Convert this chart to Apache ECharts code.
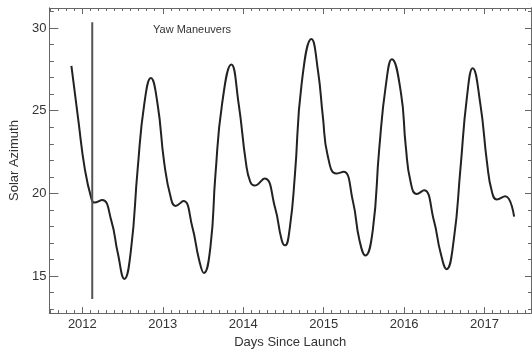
<!DOCTYPE html>
<html>
<head>
<meta charset="utf-8">
<script src="https://cdn.jsdelivr.net/npm/echarts@6/dist/echarts.min.js"></script>
<style>html,body{margin:0;padding:0;background:#fff;}#c{width:532px;height:354px;}</style>
</head>
<body>
<div id="c"></div>
<script>
// Solar azimuth curve: [year, degrees]
const azimuth = [
  [2011.864, 27.71], [2011.95, 24.43], [2012.03, 21.5], [2012.11, 19.73], [2012.15, 19.44],
  [2012.247, 19.6], [2012.36, 18.35], [2012.44, 16.4], [2012.523, 14.82], [2012.605, 16.59],
  [2012.688, 21.5], [2012.77, 25.41], [2012.852, 26.98], [2012.935, 25.41], [2013.017, 21.88],
  [2013.10, 19.73], [2013.16, 19.24], [2013.256, 19.53], [2013.367, 17.96], [2013.45, 16.0],
  [2013.511, 15.18], [2013.593, 16.79], [2013.654, 21.1], [2013.737, 25.41], [2013.852, 27.8],
  [2013.943, 25.41], [2014.033, 21.88], [2014.087, 20.7], [2014.14, 20.47], [2014.264, 20.9],
  [2014.395, 19.14], [2014.478, 17.18], [2014.52, 16.85], [2014.58, 17.96], [2014.642, 21.1],
  [2014.725, 26.59], [2014.848, 29.34], [2014.93, 27.38], [2014.99, 24.63], [2015.05, 22.28],
  [2015.157, 21.2], [2015.247, 21.3], [2015.363, 19.53], [2015.444, 17.18], [2015.519, 16.24],
  [2015.61, 17.76], [2015.69, 22.67], [2015.774, 26.59], [2015.848, 28.12], [2015.96, 26.1],
  [2016.02, 22.86], [2016.08, 20.7], [2016.157, 19.96], [2016.247, 20.18], [2016.37, 18.35],
  [2016.453, 16.4], [2016.527, 15.41], [2016.617, 17.18], [2016.70, 21.5], [2016.78, 25.8],
  [2016.852, 27.57], [2016.947, 25.41], [2017.03, 21.88], [2017.09, 20.12], [2017.153, 19.63],
  [2017.256, 19.82], [2017.367, 18.59]
];
// Yaw maneuver marker line
const yawLine = [[2012.123, 30.35], [2012.123, 13.6]];
const yawLabel = 'Yaw Maneuvers';

// Ticks
const xMajor = [2012, 2013, 2014, 2015, 2016, 2017];
const xMinor = [2011.6, 2011.7, 2011.8, 2011.9,
  2012.1, 2012.2, 2012.3, 2012.4, 2012.5, 2012.6, 2012.7, 2012.8, 2012.9,
  2013.1, 2013.2, 2013.3, 2013.4, 2013.5, 2013.6, 2013.7, 2013.8, 2013.9,
  2014.1, 2014.2, 2014.3, 2014.4, 2014.5, 2014.6, 2014.7, 2014.8, 2014.9,
  2015.1, 2015.2, 2015.3, 2015.4, 2015.5, 2015.6, 2015.7, 2015.8, 2015.9,
  2016.1, 2016.2, 2016.3, 2016.4, 2016.5, 2016.6, 2016.7, 2016.8, 2016.9,
  2017.1, 2017.2, 2017.3, 2017.4, 2017.5];
const yMajor = [15, 20, 25, 30];
const yMinor = [13, 14, 16, 17, 18, 19, 21, 22, 23, 24, 26, 27, 28, 29, 31];

const X_MIN = 2011.59, X_MAX = 2017.577, Y_MIN = 12.75, Y_MAX = 31.22;
const axisColor = '#666';
const txt = '#333';
const font = 'Liberation Sans, Arial, Helvetica, sans-serif';
const plain = v => String(Math.round(v));

function xAx(pos, ticks, len, opts) {
  return Object.assign({
    type: 'value', position: pos, min: X_MIN, max: X_MAX,
    axisLine: { show: true, onZero: false, lineStyle: { color: axisColor, width: 1 } },
    axisTick: { show: true, inside: true, length: len, customValues: ticks, lineStyle: { color: axisColor, width: 1 } },
    axisLabel: { show: false },
    splitLine: { show: false }
  }, opts || {});
}
function yAx(pos, ticks, len, opts) {
  return Object.assign({
    type: 'value', position: pos, min: Y_MIN, max: Y_MAX,
    axisLine: { show: true, onZero: false, lineStyle: { color: axisColor, width: 1 } },
    axisTick: { show: true, inside: true, length: len, customValues: ticks, lineStyle: { color: axisColor, width: 1 } },
    axisLabel: { show: false },
    splitLine: { show: false }
  }, opts || {});
}

const chart = echarts.init(document.getElementById('c'), null, { renderer: 'canvas' });
chart.setOption({
  animation: false,
  backgroundColor: '#fff',
  grid: { left: 46, right: 1, top: 8, bottom: 32, containLabel: false },
  xAxis: [
    xAx('bottom', xMajor, 6, {
      axisLabel: { show: true, customValues: xMajor, formatter: plain, fontSize: 13, color: txt, fontFamily: font, margin: 5 },
      name: 'Days Since Launch', nameLocation: 'middle', nameGap: 16,
      nameTextStyle: { fontSize: 13, color: txt, fontFamily: font }
    }),
    xAx('bottom', xMinor, 3),
    xAx('top', xMajor, 6),
    xAx('top', xMinor, 3)
  ],
  yAxis: [
    yAx('left', yMajor, 9, {
      axisLabel: { show: true, customValues: yMajor, formatter: plain, fontSize: 13, color: txt, fontFamily: font, margin: 3 },
      name: 'Solar Azimuth', nameLocation: 'middle', nameGap: 28,
      nameTextStyle: { fontSize: 13, color: txt, fontFamily: font }
    }),
    yAx('left', yMinor, 4.5),
    yAx('right', yMajor, 6),
    yAx('right', yMinor, 3)
  ],
  series: [
    {
      type: 'line', data: azimuth, xAxisIndex: 0, yAxisIndex: 0,
      smooth: 0.5, showSymbol: false, symbol: 'none',
      lineStyle: { color: '#222', width: 2 }
    },
    {
      type: 'line', data: yawLine, xAxisIndex: 0, yAxisIndex: 0,
      showSymbol: false, symbol: 'none',
      lineStyle: { color: '#555', width: 2 }
    }
  ],
  graphic: [{
    type: 'text', left: 153, top: 24,
    style: { text: yawLabel, fontSize: 11, fill: txt, fontFamily: font }
  }]
});
</script>
</body>
</html>
